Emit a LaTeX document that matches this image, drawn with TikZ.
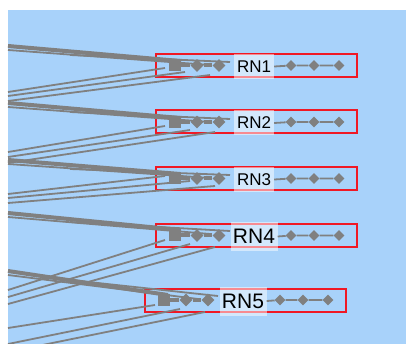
\documentclass[tikz,border=0pt]{standalone}
\usepackage{fontspec}
\setmainfont{Liberation Sans}
\usetikzlibrary{calc,shapes.geometric}
\definecolor{bg}{RGB}{168,210,250}
\definecolor{tr}{RGB}{128,128,128}
\definecolor{rd}{RGB}{240,24,36}
\tikzset{
  rnbox/.style={draw=rd,line width=2pt,minimum width=201pt,minimum height=23pt,inner sep=0pt,anchor=west},
  trace/.style={draw=tr,line width=1.8pt},
  bus/.style={draw=tr,line width=4pt},
  pad/.style={fill=tr,diamond,minimum size=11pt,inner sep=0pt},
  bigpad/.style={fill=tr,diamond,minimum size=13pt,inner sep=0pt},
  sqpad/.style={fill=tr,minimum size=12pt,inner sep=0pt},
  lbl/.style={fill=white,fill opacity=0.5,text opacity=1,inner sep=0pt,minimum width=40pt,minimum height=25pt,font=\fontsize{17}{17}\selectfont},
  lblbig/.style={lbl,minimum width=47pt,minimum height=29pt,font=\fontsize{21}{21}\selectfont},
}
\begin{document}
\begin{tikzpicture}[x=1pt,y=-1pt]
\useasboundingbox (0,0) rectangle (406,344);
\fill[white] (0,0) rectangle (406,344);
\fill[bg] (8,10) rectangle (406,344);
% boxes
\foreach \L/\cy/\n in {155/65.5/1,155/122/2,155/178.5/3,155/235.5/4,144/300/5}{
  \node[rnbox] (rn\n) at (\L,\cy) {};
}
% traces: bundles descending from upper left
\foreach \ya/\yb/\xb/\n in {46/61/180/1,103/118/180/2,160/174/180/3,213/230/180/4,271/295/168/5}{
  \coordinate (ba\n) at (8,\ya);
  \coordinate (bb\n) at (\xb,\yb);
  \coordinate (ca\n) at (8,\ya+4);
  \coordinate (cb\n) at (\xb+30,\yb+4);
  \coordinate (ea\n) at (70,\ya+9);
  \coordinate (eb\n) at (\xb+50,\yb+1);
  \draw[bus] (ba\n) -- (bb\n);
  \draw[trace] (ca\n) -- (cb\n);
  \draw[trace] (ea\n) -- (eb\n);
}
% traces: rising from lower left
\foreach \ya/\yb/\xb/\n in {92/68/165/1,96/72/185/1,101/75/210/1,
  152/126/165/2,157/130/190/2,163/132/215/2,
  194/176/165/3,198/181/190/3,203/186/215/3,
  290/240/165/4,297/244/190/4,304/247/215/4,
  328/305/155/5,344/309/180/5,352/312/205/5}{
  \coordinate (ra) at (8,\ya);
  \coordinate (rb) at (\xb,\yb);
  \draw[trace] (ra) -- (rb);
}
% pads and labels
\foreach \L/\cy/\n/\st in {155/65.5/1/lbl,155/122/2/lbl,155/178.5/3/lbl,155/235.5/4/lblbig,144/300/5/lblbig}{
  \node[sqpad] (s\n) at (\L+20,\cy) {};
  \node[bigpad] (p\n a) at (\L+42,\cy) {};
  \node[bigpad] (p\n b) at (\L+64,\cy) {};
  \node[pad] (q\n a) at (\L+136,\cy) {};
  \node[pad] (q\n b) at (\L+159,\cy) {};
  \node[pad] (q\n c) at (\L+184,\cy) {};
  \draw[bus] (s\n) -- (p\n a) -- (p\n b);
  \node[\st] (l\n) at (\L+99,\cy+1) {RN\n};
  \draw[trace] (l\n.east) -- (q\n a) -- (q\n b) -- (q\n c);
}
\end{tikzpicture}
\end{document}
